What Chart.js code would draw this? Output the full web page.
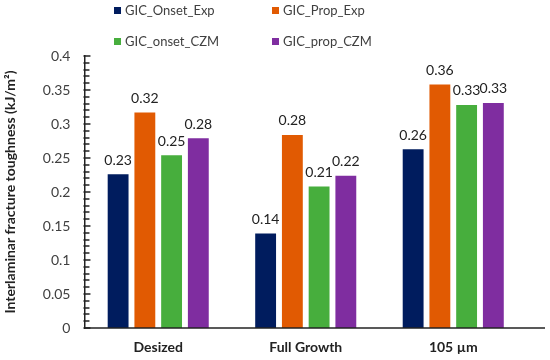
<!DOCTYPE html>
<html>
<head>
<meta charset="utf-8">
<script src="https://cdn.jsdelivr.net/npm/chart.js@4"></script>
<style>
  html, body { margin: 0; padding: 0; background: #fff; }
  #wrap { position: relative; width: 550px; height: 360px; }
  #legend {
    position: absolute; left: 114px; top: 2px;
    display: grid; grid-template-columns: 158px 160px; row-gap: 15px;
    font: 13px Lato, "Open Sans", sans-serif; color: #404040;
  }
  #legend span.box { display: inline-block; width: 7px; height: 7px; margin-right: 4px; vertical-align: 1px; }
</style>
</head>
<body>
<div id="wrap">
  <canvas id="c" width="550" height="360"></canvas>
  <div id="legend"></div>
</div>
<script>
// categories + series (kJ/m²)
const categories = ['Desized', 'Full Growth', '105 µm'];
const onsetExp = [0.226, 0.139, 0.263];
const propExp  = [0.317, 0.284, 0.358];
const onsetCZM = [0.254, 0.208, 0.328];
const propCZM  = [0.279, 0.224, 0.331];
const seriesNames = ['GIC_Onset_Exp', 'GIC_Prop_Exp', 'GIC_onset_CZM', 'GIC_prop_CZM'];
const colors = ['#001C5E', '#E15A02', '#47AE3D', '#7F2DA0'];

const axisColor = '#222';
const fontFam = 'Lato, "Open Sans", sans-serif';

// value labels above each bar
const barLabels = {
  id: 'barLabels',
  afterDatasetsDraw(chart) {
    const ctx = chart.ctx;
    ctx.save();
    ctx.font = '14px ' + fontFam;
    ctx.fillStyle = '#222';
    ctx.textAlign = 'center';
    ctx.textBaseline = 'bottom';
    chart.data.datasets.forEach((ds, i) => {
      chart.getDatasetMeta(i).data.forEach((bar, j) => {
        ctx.fillText(ds.data[j].toFixed(2), bar.x, bar.y - 7);
      });
    });
    ctx.restore();
  }
};

// inward minor/major ticks on y axis and the bottom axis line
const axisDecor = {
  id: 'axisDecor',
  afterDraw(chart) {
    const ctx = chart.ctx, y = chart.scales.y, a = chart.chartArea;
    ctx.save();
    ctx.strokeStyle = axisColor;
    ctx.lineWidth = 1.4;
    ctx.beginPath();
    for (let i = 0; i <= 40; i++) {
      const py = Math.round(y.getPixelForValue(i / 100));
      ctx.moveTo(a.left - 1, py);
      ctx.lineTo(a.left + (i % 5 === 0 ? 6 : 5), py);
    }
    ctx.stroke();
    ctx.lineWidth = 1.5;
    ctx.beginPath();
    ctx.moveTo(a.left, a.bottom);
    ctx.lineTo(a.right + 18, a.bottom);
    ctx.stroke();
    ctx.restore();
  }
};

const chart = new Chart(document.getElementById('c').getContext('2d'), {
  type: 'bar',
  data: {
    labels: categories,
    datasets: [onsetExp, propExp, onsetCZM, propCZM].map((d, i) => ({
      label: seriesNames[i],
      data: d,
      backgroundColor: colors[i],
      borderWidth: 0,
      categoryPercentage: 0.725,
      barPercentage: 0.78
    }))
  },
  options: {
    responsive: false,
    animation: false,
    layout: { padding: { top: 56, right: 23, left: 2, bottom: 0 } },
    plugins: { legend: { display: false }, tooltip: { enabled: false } },
    scales: {
      x: {
        grid: { display: false, drawTicks: false },
        border: { display: false },
        ticks: { font: { family: fontFam, size: 14, weight: 'bold' }, color: '#222', padding: 11 },
        afterFit: s => { s.height = 32; }
      },
      y: {
        min: 0, max: 0.4,
        grid: { display: false, drawTicks: false },
        border: { display: true, color: axisColor, width: 1.5 },
        ticks: {
          stepSize: 0.05,
          padding: 14,
          font: { family: fontFam, size: 14 },
          color: '#404040',
          callback: v => +v.toFixed(2)
        },
        title: {
          display: true,
          text: 'Interlaminar fracture toughness (kJ/m²)',
          font: { family: fontFam, size: 14, weight: 'bold' },
          color: '#222',
          padding: { top: 0, bottom: 10 }
        }
      }
    }
  },
  plugins: [barLabels, axisDecor]
});

// html legend, 2 x 2 like the original
const lg = document.getElementById('legend');
seriesNames.forEach((n, i) => {
  const d = document.createElement('div');
  d.innerHTML = '<span class="box" style="background:' + colors[i] + '"></span>' + n;
  lg.appendChild(d);
});
</script>
</body>
</html>
